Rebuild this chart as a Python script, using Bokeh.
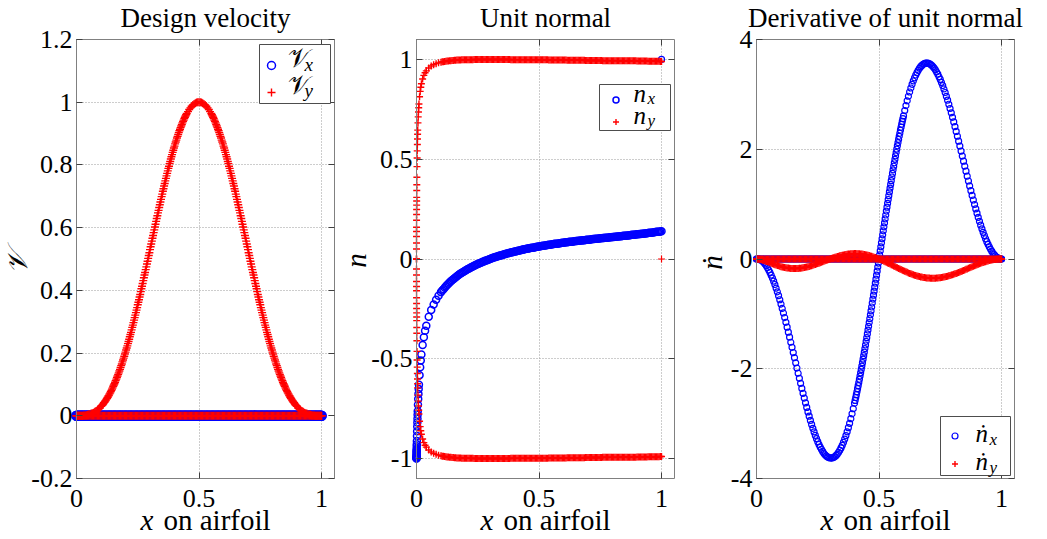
from bokeh.plotting import figure
from bokeh.layouts import row
from bokeh.models import (Range1d, FixedTicker, LinearAxis, NumeralTickFormatter,
                          Legend, LegendItem, Label, Grid, BoxAnnotation)
from bokeh.embed import file_html
from bokeh.resources import INLINE
from math import pi

SERIF = "Liberation Serif"

# ---------------------------------------------------------------------------
# Stations along the chord (uniform, 0.005 spacing)
x_stations = [
    0.000, 0.005, 0.010, 0.015, 0.020, 0.025, 0.030, 0.035, 0.040, 0.045,
    0.050, 0.055, 0.060, 0.065, 0.070, 0.075, 0.080, 0.085, 0.090, 0.095,
    0.100, 0.105, 0.110, 0.115, 0.120, 0.125, 0.130, 0.135, 0.140, 0.145,
    0.150, 0.155, 0.160, 0.165, 0.170, 0.175, 0.180, 0.185, 0.190, 0.195,
    0.200, 0.205, 0.210, 0.215, 0.220, 0.225, 0.230, 0.235, 0.240, 0.245,
    0.250, 0.255, 0.260, 0.265, 0.270, 0.275, 0.280, 0.285, 0.290, 0.295,
    0.300, 0.305, 0.310, 0.315, 0.320, 0.325, 0.330, 0.335, 0.340, 0.345,
    0.350, 0.355, 0.360, 0.365, 0.370, 0.375, 0.380, 0.385, 0.390, 0.395,
    0.400, 0.405, 0.410, 0.415, 0.420, 0.425, 0.430, 0.435, 0.440, 0.445,
    0.450, 0.455, 0.460, 0.465, 0.470, 0.475, 0.480, 0.485, 0.490, 0.495,
    0.500, 0.505, 0.510, 0.515, 0.520, 0.525, 0.530, 0.535, 0.540, 0.545,
    0.550, 0.555, 0.560, 0.565, 0.570, 0.575, 0.580, 0.585, 0.590, 0.595,
    0.600, 0.605, 0.610, 0.615, 0.620, 0.625, 0.630, 0.635, 0.640, 0.645,
    0.650, 0.655, 0.660, 0.665, 0.670, 0.675, 0.680, 0.685, 0.690, 0.695,
    0.700, 0.705, 0.710, 0.715, 0.720, 0.725, 0.730, 0.735, 0.740, 0.745,
    0.750, 0.755, 0.760, 0.765, 0.770, 0.775, 0.780, 0.785, 0.790, 0.795,
    0.800, 0.805, 0.810, 0.815, 0.820, 0.825, 0.830, 0.835, 0.840, 0.845,
    0.850, 0.855, 0.860, 0.865, 0.870, 0.875, 0.880, 0.885, 0.890, 0.895,
    0.900, 0.905, 0.910, 0.915, 0.920, 0.925, 0.930, 0.935, 0.940, 0.945,
    0.950, 0.955, 0.960, 0.965, 0.970, 0.975, 0.980, 0.985, 0.990, 0.995,
    1.000,
]

# Zero-valued series on the same stations
zero_stations = [
    0.0, 0.0, 0.0, 0.0, 0.0, 0.0, 0.0, 0.0, 0.0, 0.0, 0.0, 0.0, 0.0, 0.0, 0.0, 0.0, 0.0, 0.0, 0.0, 0.0,
    0.0, 0.0, 0.0, 0.0, 0.0, 0.0, 0.0, 0.0, 0.0, 0.0, 0.0, 0.0, 0.0, 0.0, 0.0, 0.0, 0.0, 0.0, 0.0, 0.0,
    0.0, 0.0, 0.0, 0.0, 0.0, 0.0, 0.0, 0.0, 0.0, 0.0, 0.0, 0.0, 0.0, 0.0, 0.0, 0.0, 0.0, 0.0, 0.0, 0.0,
    0.0, 0.0, 0.0, 0.0, 0.0, 0.0, 0.0, 0.0, 0.0, 0.0, 0.0, 0.0, 0.0, 0.0, 0.0, 0.0, 0.0, 0.0, 0.0, 0.0,
    0.0, 0.0, 0.0, 0.0, 0.0, 0.0, 0.0, 0.0, 0.0, 0.0, 0.0, 0.0, 0.0, 0.0, 0.0, 0.0, 0.0, 0.0, 0.0, 0.0,
    0.0, 0.0, 0.0, 0.0, 0.0, 0.0, 0.0, 0.0, 0.0, 0.0, 0.0, 0.0, 0.0, 0.0, 0.0, 0.0, 0.0, 0.0, 0.0, 0.0,
    0.0, 0.0, 0.0, 0.0, 0.0, 0.0, 0.0, 0.0, 0.0, 0.0, 0.0, 0.0, 0.0, 0.0, 0.0, 0.0, 0.0, 0.0, 0.0, 0.0,
    0.0, 0.0, 0.0, 0.0, 0.0, 0.0, 0.0, 0.0, 0.0, 0.0, 0.0, 0.0, 0.0, 0.0, 0.0, 0.0, 0.0, 0.0, 0.0, 0.0,
    0.0, 0.0, 0.0, 0.0, 0.0, 0.0, 0.0, 0.0, 0.0, 0.0, 0.0, 0.0, 0.0, 0.0, 0.0, 0.0, 0.0, 0.0, 0.0, 0.0,
    0.0, 0.0, 0.0, 0.0, 0.0, 0.0, 0.0, 0.0, 0.0, 0.0, 0.0, 0.0, 0.0, 0.0, 0.0, 0.0, 0.0, 0.0, 0.0, 0.0,
    0.0,
]

# Design velocity, y component on the upper surface (x component is zero)
vy_upper = [
    0.000, 0.000, 0.000, 0.000, 0.000, 0.000, 0.001, 0.001, 0.002, 0.003,
    0.004, 0.005, 0.007, 0.008, 0.010, 0.013, 0.015, 0.018, 0.022, 0.025,
    0.030, 0.034, 0.039, 0.044, 0.050, 0.056, 0.063, 0.070, 0.077, 0.085,
    0.094, 0.102, 0.112, 0.122, 0.132, 0.143, 0.154, 0.165, 0.178, 0.190,
    0.203, 0.216, 0.230, 0.244, 0.259, 0.274, 0.289, 0.305, 0.321, 0.337,
    0.354, 0.370, 0.387, 0.405, 0.422, 0.440, 0.457, 0.475, 0.493, 0.511,
    0.530, 0.548, 0.566, 0.584, 0.602, 0.620, 0.638, 0.655, 0.673, 0.690,
    0.707, 0.724, 0.741, 0.757, 0.773, 0.789, 0.804, 0.819, 0.833, 0.847,
    0.860, 0.873, 0.886, 0.897, 0.909, 0.919, 0.929, 0.939, 0.948, 0.956,
    0.964, 0.970, 0.977, 0.982, 0.987, 0.991, 0.994, 0.997, 0.999, 1.000,
    1.000,
    1.000, 0.999, 0.997, 0.994, 0.991, 0.987, 0.982, 0.977, 0.970, 0.964,
    0.956, 0.948, 0.939, 0.929, 0.919, 0.909, 0.897, 0.886, 0.873, 0.860,
    0.847, 0.833, 0.819, 0.804, 0.789, 0.773, 0.757, 0.741, 0.724, 0.707,
    0.690, 0.673, 0.655, 0.638, 0.620, 0.602, 0.584, 0.566, 0.548, 0.530,
    0.511, 0.493, 0.475, 0.457, 0.440, 0.422, 0.405, 0.387, 0.370, 0.354,
    0.337, 0.321, 0.305, 0.289, 0.274, 0.259, 0.244, 0.230, 0.216, 0.203,
    0.190, 0.178, 0.165, 0.154, 0.143, 0.132, 0.122, 0.112, 0.102, 0.094,
    0.085, 0.077, 0.070, 0.063, 0.056, 0.050, 0.044, 0.039, 0.034, 0.030,
    0.025, 0.022, 0.018, 0.015, 0.013, 0.010, 0.008, 0.007, 0.005, 0.004,
    0.003, 0.002, 0.001, 0.001, 0.000, 0.000, 0.000, 0.000, 0.000, 0.000,
    0.000,
]

# Extra stations on the flanks of the velocity bump
x_flank = [
    0.1025, 0.1075, 0.1125, 0.1175, 0.1225, 0.1275, 0.1325, 0.1375, 0.1425, 0.1475,
    0.1525, 0.1575, 0.1625, 0.1675, 0.1725, 0.1775, 0.1825, 0.1875, 0.1925, 0.1975,
    0.2025, 0.2075, 0.2125, 0.2175, 0.2225, 0.2275, 0.2325, 0.2375, 0.2425, 0.2475,
    0.2525, 0.2575, 0.2625, 0.2675, 0.2725, 0.2775, 0.2825, 0.2875, 0.2925, 0.2975,
    0.3025, 0.3075, 0.3125, 0.3175, 0.3225, 0.3275, 0.3325, 0.3375, 0.3425, 0.3475,
    0.3525, 0.3575, 0.3625, 0.3675, 0.3725, 0.3775, 0.3825, 0.3875, 0.3925, 0.3975,
    0.4025, 0.4075, 0.4125, 0.4175, 0.4225, 0.4275, 0.4325, 0.4375, 0.4425, 0.4475,
    0.5525, 0.5575, 0.5625, 0.5675, 0.5725, 0.5775, 0.5825, 0.5875, 0.5925, 0.5975,
    0.6025, 0.6075, 0.6125, 0.6175, 0.6225, 0.6275, 0.6325, 0.6375, 0.6425, 0.6475,
    0.6525, 0.6575, 0.6625, 0.6675, 0.6725, 0.6775, 0.6825, 0.6875, 0.6925, 0.6975,
    0.7025, 0.7075, 0.7125, 0.7175, 0.7225, 0.7275, 0.7325, 0.7375, 0.7425, 0.7475,
    0.7525, 0.7575, 0.7625, 0.7675, 0.7725, 0.7775, 0.7825, 0.7875, 0.7925, 0.7975,
    0.8025, 0.8075, 0.8125, 0.8175, 0.8225, 0.8275, 0.8325, 0.8375, 0.8425, 0.8475,
    0.8525, 0.8575, 0.8625, 0.8675, 0.8725, 0.8775, 0.8825, 0.8875, 0.8925, 0.8975,
]
vy_flank = [
    0.032, 0.036, 0.042, 0.047, 0.053, 0.059, 0.066, 0.073, 0.081, 0.089,
    0.098, 0.107, 0.117, 0.127, 0.137, 0.148, 0.160, 0.172, 0.184, 0.197,
    0.210, 0.223, 0.237, 0.252, 0.266, 0.282, 0.297, 0.313, 0.329, 0.345,
    0.362, 0.379, 0.396, 0.413, 0.431, 0.449, 0.466, 0.484, 0.502, 0.520,
    0.539, 0.557, 0.575, 0.593, 0.611, 0.629, 0.647, 0.664, 0.682, 0.699,
    0.716, 0.733, 0.749, 0.765, 0.781, 0.796, 0.811, 0.826, 0.840, 0.854,
    0.867, 0.879, 0.891, 0.903, 0.914, 0.924, 0.934, 0.943, 0.952, 0.960,
    0.960, 0.952, 0.943, 0.934, 0.924, 0.914, 0.903, 0.891, 0.879, 0.867,
    0.854, 0.840, 0.826, 0.811, 0.796, 0.781, 0.765, 0.749, 0.733, 0.716,
    0.699, 0.682, 0.664, 0.647, 0.629, 0.611, 0.593, 0.575, 0.557, 0.539,
    0.520, 0.502, 0.484, 0.466, 0.449, 0.431, 0.413, 0.396, 0.379, 0.362,
    0.345, 0.329, 0.313, 0.297, 0.282, 0.266, 0.252, 0.237, 0.223, 0.210,
    0.197, 0.184, 0.172, 0.160, 0.148, 0.137, 0.127, 0.117, 0.107, 0.098,
    0.089, 0.081, 0.073, 0.066, 0.059, 0.053, 0.047, 0.042, 0.036, 0.032,
]

# ---------------------------------------------------------------------------
# Unit normal stations (clustered at the leading edge)
x_normal = [
    0.0, 0.00002, 0.00005, 0.0001, 0.00015, 0.0002, 0.0003, 0.0004, 0.0005, 0.0006,
    0.0007, 0.0008, 0.001, 0.0012, 0.0015, 0.002, 0.0025, 0.003, 0.0035, 0.004,
    0.0045, 0.005, 0.006, 0.007, 0.008, 0.009, 0.01, 0.0125, 0.015, 0.0175,
    0.02, 0.025, 0.03, 0.035, 0.04, 0.05, 0.06, 0.07, 0.08, 0.09,
    0.10, 0.11, 0.12, 0.13, 0.14, 0.15, 0.16, 0.17, 0.18, 0.19,
    0.20, 0.21, 0.22, 0.23, 0.24, 0.25, 0.26, 0.27, 0.28, 0.29,
    0.30, 0.31, 0.32, 0.33, 0.34, 0.35, 0.36, 0.37, 0.38, 0.39,
    0.40, 0.41, 0.42, 0.43, 0.44, 0.45, 0.46, 0.47, 0.48, 0.49,
    0.50, 0.51, 0.52, 0.53, 0.54, 0.55, 0.56, 0.57, 0.58, 0.59,
    0.60, 0.61, 0.62, 0.63, 0.64, 0.65, 0.66, 0.67, 0.68, 0.69,
    0.70, 0.71, 0.72, 0.73, 0.74, 0.75, 0.76, 0.77, 0.78, 0.79,
    0.80, 0.81, 0.82, 0.83, 0.84, 0.85, 0.86, 0.87, 0.88, 0.89,
    0.90, 0.91, 0.92, 0.93, 0.94, 0.95, 0.96, 0.97, 0.98, 0.99,
    1.00,
]

# n_x is the same on both surfaces
nx_surface = [
    -1.000, -0.999, -0.997, -0.994, -0.990, -0.987, -0.981, -0.975, -0.969, -0.963,
    -0.957, -0.951, -0.939, -0.928, -0.912, -0.887, -0.863, -0.840, -0.819, -0.800,
    -0.781, -0.763, -0.731, -0.702, -0.676, -0.652, -0.630, -0.582, -0.542, -0.509,
    -0.479, -0.431, -0.392, -0.360, -0.334, -0.290, -0.256, -0.228, -0.204, -0.184,
    -0.166, -0.151, -0.137, -0.124, -0.112, -0.101, -0.091, -0.082, -0.073, -0.065,
    -0.058, -0.050, -0.044, -0.037, -0.031, -0.025, -0.020, -0.014, -0.009, -0.005,
    0.000, 0.005, 0.009, 0.013, 0.017, 0.020, 0.024, 0.028, 0.031, 0.034,
    0.037, 0.040, 0.043, 0.046, 0.049, 0.051, 0.054, 0.056, 0.058, 0.061,
    0.063, 0.065, 0.067, 0.069, 0.071, 0.073, 0.075, 0.077, 0.078, 0.080,
    0.082, 0.084, 0.085, 0.087, 0.088, 0.090, 0.091, 0.093, 0.094, 0.095,
    0.097, 0.098, 0.100, 0.101, 0.102, 0.104, 0.105, 0.106, 0.107, 0.109,
    0.110, 0.111, 0.113, 0.114, 0.115, 0.117, 0.118, 0.119, 0.121, 0.122,
    0.124, 0.125, 0.126, 0.128, 0.129, 0.131, 0.132, 0.134, 0.136, 0.137,
    0.139,
]

ny_upper = [
    0.000, 0.050, 0.080, 0.113, 0.138, 0.159, 0.194, 0.223, 0.248, 0.270,
    0.291, 0.309, 0.343, 0.372, 0.410, 0.463, 0.506, 0.542, 0.574, 0.601,
    0.625, 0.646, 0.682, 0.712, 0.737, 0.758, 0.777, 0.813, 0.840, 0.861,
    0.878, 0.902, 0.920, 0.933, 0.943, 0.957, 0.967, 0.974, 0.979, 0.983,
    0.986, 0.989, 0.991, 0.992, 0.994, 0.995, 0.996, 0.997, 0.997, 0.998,
    0.998, 0.999, 0.999, 0.999, 1.000, 1.000, 1.000, 1.000, 1.000, 1.000,
    1.000, 1.000, 1.000, 1.000, 1.000, 1.000, 1.000, 1.000, 1.000, 0.999,
    0.999, 0.999, 0.999, 0.999, 0.999, 0.999, 0.999, 0.998, 0.998, 0.998,
    0.998, 0.998, 0.998, 0.998, 0.997, 0.997, 0.997, 0.997, 0.997, 0.997,
    0.997, 0.997, 0.996, 0.996, 0.996, 0.996, 0.996, 0.996, 0.996, 0.995,
    0.995, 0.995, 0.995, 0.995, 0.995, 0.995, 0.994, 0.994, 0.994, 0.994,
    0.994, 0.994, 0.994, 0.993, 0.993, 0.993, 0.993, 0.993, 0.993, 0.993,
    0.992, 0.992, 0.992, 0.992, 0.992, 0.991, 0.991, 0.991, 0.991, 0.991,
    0.990,
]

ny_lower = [
    -0.000, -0.050, -0.080, -0.113, -0.138, -0.159, -0.194, -0.223, -0.248, -0.270,
    -0.291, -0.309, -0.343, -0.372, -0.410, -0.463, -0.506, -0.542, -0.574, -0.601,
    -0.625, -0.646, -0.682, -0.712, -0.737, -0.758, -0.777, -0.813, -0.840, -0.861,
    -0.878, -0.902, -0.920, -0.933, -0.943, -0.957, -0.967, -0.974, -0.979, -0.983,
    -0.986, -0.989, -0.991, -0.992, -0.994, -0.995, -0.996, -0.997, -0.997, -0.998,
    -0.998, -0.999, -0.999, -0.999, -1.000, -1.000, -1.000, -1.000, -1.000, -1.000,
    -1.000, -1.000, -1.000, -1.000, -1.000, -1.000, -1.000, -1.000, -1.000, -0.999,
    -0.999, -0.999, -0.999, -0.999, -0.999, -0.999, -0.999, -0.998, -0.998, -0.998,
    -0.998, -0.998, -0.998, -0.998, -0.997, -0.997, -0.997, -0.997, -0.997, -0.997,
    -0.997, -0.997, -0.996, -0.996, -0.996, -0.996, -0.996, -0.996, -0.996, -0.995,
    -0.995, -0.995, -0.995, -0.995, -0.995, -0.995, -0.994, -0.994, -0.994, -0.994,
    -0.994, -0.994, -0.994, -0.993, -0.993, -0.993, -0.993, -0.993, -0.993, -0.993,
    -0.992, -0.992, -0.992, -0.992, -0.992, -0.991, -0.991, -0.991, -0.991, -0.991,
    -0.990,
]

# Intermediate stations between 0.1 and 1 for the unit normal
x_normal_mid = [
    0.105, 0.115, 0.125, 0.135, 0.145, 0.155, 0.165, 0.175, 0.185, 0.195,
    0.205, 0.215, 0.225, 0.235, 0.245, 0.255, 0.265, 0.275, 0.285, 0.295,
    0.305, 0.315, 0.325, 0.335, 0.345, 0.355, 0.365, 0.375, 0.385, 0.395,
    0.405, 0.415, 0.425, 0.435, 0.445, 0.455, 0.465, 0.475, 0.485, 0.495,
    0.505, 0.515, 0.525, 0.535, 0.545, 0.555, 0.565, 0.575, 0.585, 0.595,
    0.605, 0.615, 0.625, 0.635, 0.645, 0.655, 0.665, 0.675, 0.685, 0.695,
    0.705, 0.715, 0.725, 0.735, 0.745, 0.755, 0.765, 0.775, 0.785, 0.795,
    0.805, 0.815, 0.825, 0.835, 0.845, 0.855, 0.865, 0.875, 0.885, 0.895,
    0.905, 0.915, 0.925, 0.935, 0.945, 0.955, 0.965, 0.975, 0.985, 0.995,
]
nx_mid = [
    -0.158, -0.144, -0.130, -0.118, -0.106, -0.096, -0.086, -0.077, -0.069, -0.061,
    -0.054, -0.047, -0.040, -0.034, -0.028, -0.022, -0.017, -0.012, -0.007, -0.002,
    0.002, 0.007, 0.011, 0.015, 0.018, 0.022, 0.026, 0.029, 0.032, 0.035,
    0.038, 0.041, 0.044, 0.047, 0.050, 0.052, 0.055, 0.057, 0.059, 0.062,
    0.064, 0.066, 0.068, 0.070, 0.072, 0.074, 0.076, 0.077, 0.079, 0.081,
    0.083, 0.084, 0.086, 0.087, 0.089, 0.090, 0.092, 0.093, 0.094, 0.096,
    0.097, 0.099, 0.100, 0.101, 0.103, 0.104, 0.105, 0.106, 0.108, 0.109,
    0.110, 0.112, 0.113, 0.114, 0.116, 0.117, 0.118, 0.120, 0.121, 0.123,
    0.124, 0.125, 0.127, 0.128, 0.130, 0.131, 0.133, 0.135, 0.136, 0.138,
]
ny_upper_mid = [
    0.988, 0.990, 0.992, 0.993, 0.995, 0.996, 0.997, 0.997, 0.998, 0.998,
    0.999, 0.999, 0.999, 1.000, 1.000, 1.000, 1.000, 1.000, 1.000, 1.000,
    1.000, 1.000, 1.000, 1.000, 1.000, 1.000, 1.000, 1.000, 0.999, 0.999,
    0.999, 0.999, 0.999, 0.999, 0.999, 0.999, 0.998, 0.998, 0.998, 0.998,
    0.998, 0.998, 0.998, 0.998, 0.997, 0.997, 0.997, 0.997, 0.997, 0.997,
    0.997, 0.996, 0.996, 0.996, 0.996, 0.996, 0.996, 0.996, 0.996, 0.995,
    0.995, 0.995, 0.995, 0.995, 0.995, 0.995, 0.994, 0.994, 0.994, 0.994,
    0.994, 0.994, 0.994, 0.993, 0.993, 0.993, 0.993, 0.993, 0.993, 0.993,
    0.992, 0.992, 0.992, 0.992, 0.991, 0.991, 0.991, 0.991, 0.991, 0.990,
]
ny_lower_mid = [
    -0.988, -0.990, -0.992, -0.993, -0.995, -0.996, -0.997, -0.997, -0.998, -0.998,
    -0.999, -0.999, -0.999, -1.000, -1.000, -1.000, -1.000, -1.000, -1.000, -1.000,
    -1.000, -1.000, -1.000, -1.000, -1.000, -1.000, -1.000, -1.000, -0.999, -0.999,
    -0.999, -0.999, -0.999, -0.999, -0.999, -0.999, -0.998, -0.998, -0.998, -0.998,
    -0.998, -0.998, -0.998, -0.998, -0.997, -0.997, -0.997, -0.997, -0.997, -0.997,
    -0.997, -0.996, -0.996, -0.996, -0.996, -0.996, -0.996, -0.996, -0.996, -0.995,
    -0.995, -0.995, -0.995, -0.995, -0.995, -0.995, -0.994, -0.994, -0.994, -0.994,
    -0.994, -0.994, -0.994, -0.993, -0.993, -0.993, -0.993, -0.993, -0.993, -0.993,
    -0.992, -0.992, -0.992, -0.992, -0.991, -0.991, -0.991, -0.991, -0.991, -0.990,
]

# Trailing-edge closing point
x_te = [1.0]
nx_te = [1.0]
ny_te = [0.0]

# ---------------------------------------------------------------------------
# Derivative of the unit normal on the upper surface (lower surface is zero)
dnx_upper = [
    0.000, -0.001, -0.004, -0.012, -0.025, -0.042, -0.065, -0.092, -0.123, -0.159,
    -0.200, -0.244, -0.294, -0.347, -0.404, -0.465, -0.530, -0.598, -0.669, -0.743,
    -0.821, -0.901, -0.983, -1.067, -1.154, -1.243, -1.333, -1.424, -1.517, -1.610,
    -1.705, -1.798, -1.892, -1.987, -2.081, -2.174, -2.266, -2.358, -2.448, -2.535,
    -2.621, -2.705, -2.786, -2.865, -2.942, -3.015, -3.086, -3.151, -3.215, -3.274,
    -3.329, -3.380, -3.427, -3.469, -3.506, -3.539, -3.567, -3.589, -3.607, -3.619,
    -3.626, -3.628, -3.624, -3.614, -3.600, -3.579, -3.554, -3.522, -3.485, -3.443,
    -3.395, -3.341, -3.282, -3.218, -3.149, -3.074, -2.995, -2.910, -2.821, -2.727,
    -2.629, -2.526, -2.419, -2.308, -2.193, -2.074, -1.952, -1.826, -1.698, -1.567,
    -1.433, -1.296, -1.158, -1.017, -0.875, -0.731, -0.587, -0.441, -0.294, -0.147,
    0.000,
    0.147, 0.294, 0.440, 0.586, 0.730, 0.873, 1.014, 1.154, 1.291, 1.427,
    1.560, 1.690, 1.817, 1.941, 2.062, 2.179, 2.292, 2.401, 2.507, 2.608,
    2.704, 2.796, 2.883, 2.966, 3.043, 3.116, 3.183, 3.245, 3.301, 3.353,
    3.399, 3.439, 3.474, 3.504, 3.528, 3.547, 3.560, 3.568, 3.571, 3.568,
    3.560, 3.547, 3.530, 3.507, 3.479, 3.447, 3.410, 3.368, 3.322, 3.272,
    3.218, 3.160, 3.099, 3.034, 2.965, 2.894, 2.820, 2.743, 2.663, 2.582,
    2.498, 2.412, 2.325, 2.237, 2.147, 2.057, 1.966, 1.875, 1.783, 1.692,
    1.601, 1.510, 1.421, 1.332, 1.245, 1.159, 1.075, 0.993, 0.912, 0.835,
    0.759, 0.686, 0.617, 0.550, 0.486, 0.426, 0.369, 0.316, 0.267, 0.221,
    0.180, 0.143, 0.110, 0.081, 0.056, 0.036, 0.020, 0.009, 0.002, 0.000,
]

# Extra stations around mid-chord, where the x component changes fastest
x_mid = [
    0.4025, 0.4075, 0.4125, 0.4175, 0.4225, 0.4275, 0.4325, 0.4375, 0.4425, 0.4475,
    0.4525, 0.4575, 0.4625, 0.4675, 0.4725, 0.4775, 0.4825, 0.4875, 0.4925, 0.4975,
    0.5025, 0.5075, 0.5125, 0.5175, 0.5225, 0.5275, 0.5325, 0.5375, 0.5425, 0.5475,
    0.5525, 0.5575, 0.5625, 0.5675, 0.5725, 0.5775, 0.5825, 0.5875, 0.5925, 0.5975,
]
dnx_mid = [
    -2.578, -2.473, -2.364, -2.251, -2.134, -2.013, -1.889, -1.762, -1.633, -1.500,
    -1.365, -1.227, -1.088, -0.946, -0.803, -0.659, -0.514, -0.368, -0.221, -0.074,
    0.074, 0.221, 0.367, 0.513, 0.658, 0.802, 0.944, 1.084, 1.223, 1.359,
    1.494, 1.625, 1.754, 1.879, 2.002, 2.121, 2.236, 2.347, 2.454, 2.558,
]

dny_upper = [
    0.000, -0.001, -0.003, -0.008, -0.014, -0.021, -0.028, -0.036, -0.044, -0.052,
    -0.061, -0.069, -0.078, -0.086, -0.095, -0.103, -0.111, -0.118, -0.125, -0.132,
    -0.139, -0.144, -0.150, -0.154, -0.159, -0.162, -0.166, -0.168, -0.171, -0.172,
    -0.174, -0.174, -0.174, -0.172, -0.171, -0.169, -0.167, -0.163, -0.160, -0.155,
    -0.151, -0.146, -0.141, -0.135, -0.129, -0.122, -0.115, -0.107, -0.100, -0.092,
    -0.084, -0.076, -0.068, -0.059, -0.051, -0.042, -0.033, -0.024, -0.016, -0.008,
    0.000, 0.008, 0.016, 0.023, 0.031, 0.038, 0.046, 0.052, 0.058, 0.064,
    0.070, 0.074, 0.079, 0.083, 0.087, 0.090, 0.093, 0.094, 0.096, 0.097,
    0.098, 0.098, 0.097, 0.096, 0.095, 0.092, 0.090, 0.086, 0.083, 0.078,
    0.074, 0.068, 0.062, 0.055, 0.049, 0.041, 0.034, 0.026, 0.018, 0.009,
    0.000,
    -0.010, -0.019, -0.029, -0.040, -0.050, -0.061, -0.071, -0.082, -0.093, -0.105,
    -0.116, -0.127, -0.138, -0.149, -0.160, -0.172, -0.182, -0.193, -0.203, -0.214,
    -0.224, -0.234, -0.243, -0.253, -0.262, -0.271, -0.279, -0.287, -0.294, -0.302,
    -0.308, -0.315, -0.320, -0.326, -0.330, -0.335, -0.338, -0.342, -0.344, -0.347,
    -0.348, -0.350, -0.350, -0.351, -0.350, -0.350, -0.348, -0.346, -0.343, -0.341,
    -0.337, -0.333, -0.328, -0.324, -0.318, -0.313, -0.306, -0.300, -0.293, -0.286,
    -0.278, -0.270, -0.262, -0.254, -0.245, -0.236, -0.227, -0.218, -0.208, -0.199,
    -0.189, -0.180, -0.170, -0.160, -0.150, -0.141, -0.131, -0.122, -0.113, -0.104,
    -0.095, -0.086, -0.078, -0.070, -0.062, -0.055, -0.048, -0.041, -0.035, -0.029,
    -0.024, -0.019, -0.015, -0.011, -0.008, -0.005, -0.003, -0.001, -0.001, 0.000,
]

# Axis ticks
x_ticks = [0, 0.5, 1]
v_ticks = [-0.2, 0, 0.2, 0.4, 0.6, 0.8, 1.0, 1.2]
n_ticks = [-1, -0.5, 0, 0.5, 1]
dn_ticks = [-4, -2, 0, 2, 4]

# ---------------------------------------------------------------------------
BLUE = "#0000ff"
RED = "#ff0000"
H = 539
BOX_TOP = 39
BOX_H = 439
BOX_W = 258
X_END = 1.053


class Panel:
    """One subplot: the plotting frame covers the whole canvas; the axes box
    is drawn with fixed-location axes so that text can sit anywhere."""

    def __init__(self, page_left, width, box_left, y_lim, y_ticks):
        self.page_left = page_left
        self.width = width
        y0, y1 = y_lim
        sx = X_END / BOX_W
        sy = (y1 - y0) / BOX_H
        xr = Range1d(-box_left * sx, X_END + (width - box_left - BOX_W) * sx)
        yr = Range1d(y0 - (H - BOX_TOP - BOX_H) * sy, y1 + BOX_TOP * sy)
        p = figure(width=width, height=H, x_range=xr, y_range=yr,
                   x_axis_type=None, y_axis_type=None,
                   output_backend="svg", toolbar_location=None,
                   min_border=0, min_border_left=0, min_border_right=0,
                   min_border_top=0, min_border_bottom=0)
        p.outline_line_color = None
        p.background_fill_color = "white"
        p.border_fill_color = "white"
        self.p = p

        p.add_layout(Grid(dimension=0, ticker=FixedTicker(ticks=x_ticks),
                          bounds=(0, X_END), cross_bounds=(y0, y1),
                          grid_line_color="#9a9a9a", grid_line_dash="1 2"))
        p.add_layout(Grid(dimension=1, ticker=FixedTicker(ticks=y_ticks),
                          bounds=(y0, y1), cross_bounds=(0, X_END),
                          grid_line_color="#9a9a9a", grid_line_dash="1 2"))

        self._axis("below", y0, x_ticks, (0, X_END), True, 11)
        self._axis("above", y1, x_ticks, (0, X_END), False, 0)
        self._axis("left", 0, y_ticks, (y0, y1), True, 4)
        self._axis("right", X_END, y_ticks, (y0, y1), False, 0)

    def _axis(self, place, fixed, ticks, bounds, labelled, standoff):
        ax = LinearAxis(ticker=FixedTicker(ticks=ticks), fixed_location=fixed,
                        bounds=bounds,
                        formatter=NumeralTickFormatter(format="0.[0]"),
                        axis_line_color="#808080", axis_line_width=1,
                        major_tick_line_color="#404040",
                        major_tick_in=6, major_tick_out=0,
                        minor_tick_in=0, minor_tick_out=0,
                        major_label_text_font=SERIF,
                        major_label_text_font_size="26px",
                        major_label_text_color="black",
                        major_label_standoff=standoff)
        if not labelled:
            ax.major_label_overrides = {t: "" for t in ticks}
        self.p.add_layout(ax, place)

    def to_data(self, px, py):
        xr, yr = self.p.x_range, self.p.y_range
        x = xr.start + (px - self.page_left) / self.width * (xr.end - xr.start)
        y = yr.end - py / H * (yr.end - yr.start)
        return x, y

    def text(self, px, py, text, size, italic=False, align="left", angle=0.0):
        # (px, py): page position of the text's baseline start (or baseline
        # centre); rotated labels are given by their visual centre
        if angle:
            px -= 0.22 * size
            baseline = "middle"
        else:
            py -= 0.29 * size
            baseline = "alphabetic"
        x, y = self.to_data(px, py)
        self.p.add_layout(Label(x=x, y=y, text=text, text_font=SERIF,
                                text_font_size=f"{size}px",
                                text_font_style="italic" if italic else "normal",
                                text_align=align, text_baseline=baseline,
                                angle=angle, text_color="black", level="overlay"))

    def decorate(self, box_left_page, title, ylabel, ylabel_pos, ylabel_size):
        self.text(box_left_page + BOX_W / 2, 25, title, 27, align="center")
        self.text(box_left_page + 64, 528, "x", 29, italic=True)
        self.text(box_left_page + 87, 528, "on airfoil", 29)
        self.text(ylabel_pos[0], ylabel_pos[1], ylabel, ylabel_size, italic=True,
                  align="center", angle=pi / 2)

    def legend(self, renderers, box, glyph_w, glyph_h, label_h, spacing, padding, label_w):
        left, top, right, bottom = box
        x0, y0 = self.to_data(left, bottom)
        x1, y1 = self.to_data(right, top)
        self.p.add_layout(BoxAnnotation(left=x0, right=x1, bottom=y0, top=y1,
                                        fill_color="white", fill_alpha=1.0,
                                        line_color="#4d4d4d", line_width=1,
                                        line_alpha=1.0, level="annotation"))
        items = [LegendItem(label=" ", renderers=[r]) for r in renderers]
        lg = Legend(items=items,
                    location=(left - self.page_left, H - bottom),
                    orientation="vertical",
                    glyph_width=glyph_w, glyph_height=glyph_h, label_height=label_h,
                    label_width=label_w, label_standoff=0, spacing=spacing,
                    padding=padding, margin=0,
                    border_line_color=None,
                    background_fill_color="white", background_fill_alpha=0.0,
                    label_text_font_size="10px")
        self.p.add_layout(lg)


# ---------------- Panel 1: design velocity ----------------
P1 = Panel(0, 336, 76, (-0.2, 1.2), v_ticks)
p1 = P1.p
r_vx = p1.scatter(x_stations, zero_stations, marker="circle", size=9,
                  fill_color=None, line_color=BLUE, line_width=1.5)
p1.scatter(x_stations, zero_stations, marker="circle", size=9,
           fill_color=None, line_color=BLUE, line_width=1.5)
r_vy = p1.scatter(x_stations, vy_upper, marker="cross", size=8,
                  line_color=RED, line_width=1.4)
p1.scatter(x_flank, vy_flank, marker="cross", size=8, line_color=RED, line_width=1.4)
p1.scatter(x_stations, zero_stations, marker="cross", size=8,
           line_color=RED, line_width=1.4)
P1.decorate(76, "Design velocity", "\U0001D4B1", (23, 262), 28)
P1.legend([r_vx, r_vy], (259, 44, 330, 103), 24, 20, 22, 5, 5, 37)
P1.text(287, 66, "\U0001D4B1", 26)
P1.text(304, 70, "x", 19, italic=True)
P1.text(287, 93, "\U0001D4B1", 26)
P1.text(304, 96, "y", 19, italic=True)

# ---------------- Panel 2: unit normal ----------------
P2 = Panel(336, 340, 80, (-1.1, 1.1), n_ticks)
p2 = P2.p
r_nx = p2.scatter(x_normal, nx_surface, marker="circle", size=7,
                  fill_color=None, line_color=BLUE, line_width=1.5)
p2.scatter(x_normal_mid, nx_mid, marker="circle", size=7,
           fill_color=None, line_color=BLUE, line_width=1.5)
p2.scatter(x_te, nx_te, marker="circle", size=6,
           fill_color=None, line_color=BLUE, line_width=1.2)
r_ny = p2.scatter(x_normal, ny_upper, marker="cross", size=7,
                  line_color=RED, line_width=1.4)
p2.scatter(x_normal_mid, ny_upper_mid, marker="cross", size=7,
           line_color=RED, line_width=1.4)
p2.scatter(x_normal, ny_lower, marker="cross", size=7,
           line_color=RED, line_width=1.4)
p2.scatter(x_normal_mid, ny_lower_mid, marker="cross", size=7,
           line_color=RED, line_width=1.4)
p2.scatter(x_te, ny_te, marker="cross", size=7, line_color=RED, line_width=1.2)
P2.decorate(416, "Unit normal", "n", (362, 260), 29)
P2.legend([r_nx, r_ny], (599, 84, 670, 130), 33, 15, 18, 4, 3, 32)
P2.text(633, 100, "n", 25, italic=True)
P2.text(647, 103, "x", 17, italic=True)
P2.text(633, 122, "n", 25, italic=True)
P2.text(647, 125, "y", 17, italic=True)

# ---------------- Panel 3: derivative of unit normal ----------------
P3 = Panel(676, 371, 80, (-4, 4), dn_ticks)
p3 = P3.p
r_dnx = p3.scatter(x_stations, dnx_upper, marker="circle", size=6,
                   fill_color=None, line_color=BLUE, line_width=1.2)
p3.scatter(x_mid, dnx_mid, marker="circle", size=6,
           fill_color=None, line_color=BLUE, line_width=1.2)
p3.scatter(x_stations, zero_stations, marker="circle", size=6,
           fill_color=None, line_color=BLUE, line_width=1.2)
r_dny = p3.scatter(x_stations, dny_upper, marker="cross", size=7,
                   line_color=RED, line_width=1.4)
p3.scatter(x_stations, zero_stations, marker="cross", size=7,
           line_color=RED, line_width=1.4)
P3.decorate(756, "Derivative of unit normal", "\u1E45", (718, 262), 29)
P3.legend([r_dnx, r_dny], (940, 416, 1010, 475), 29, 15, 24, 4, 3, 34)
P3.text(975, 440, "\u1E45", 25, italic=True)
P3.text(989, 444, "x", 17, italic=True)
P3.text(975, 468, "\u1E45", 25, italic=True)
P3.text(989, 472, "y", 17, italic=True)

layout = row(p1, p2, p3, spacing=0)
open("out.html", "w").write(file_html(layout, INLINE, "Design velocity and unit normal"))
